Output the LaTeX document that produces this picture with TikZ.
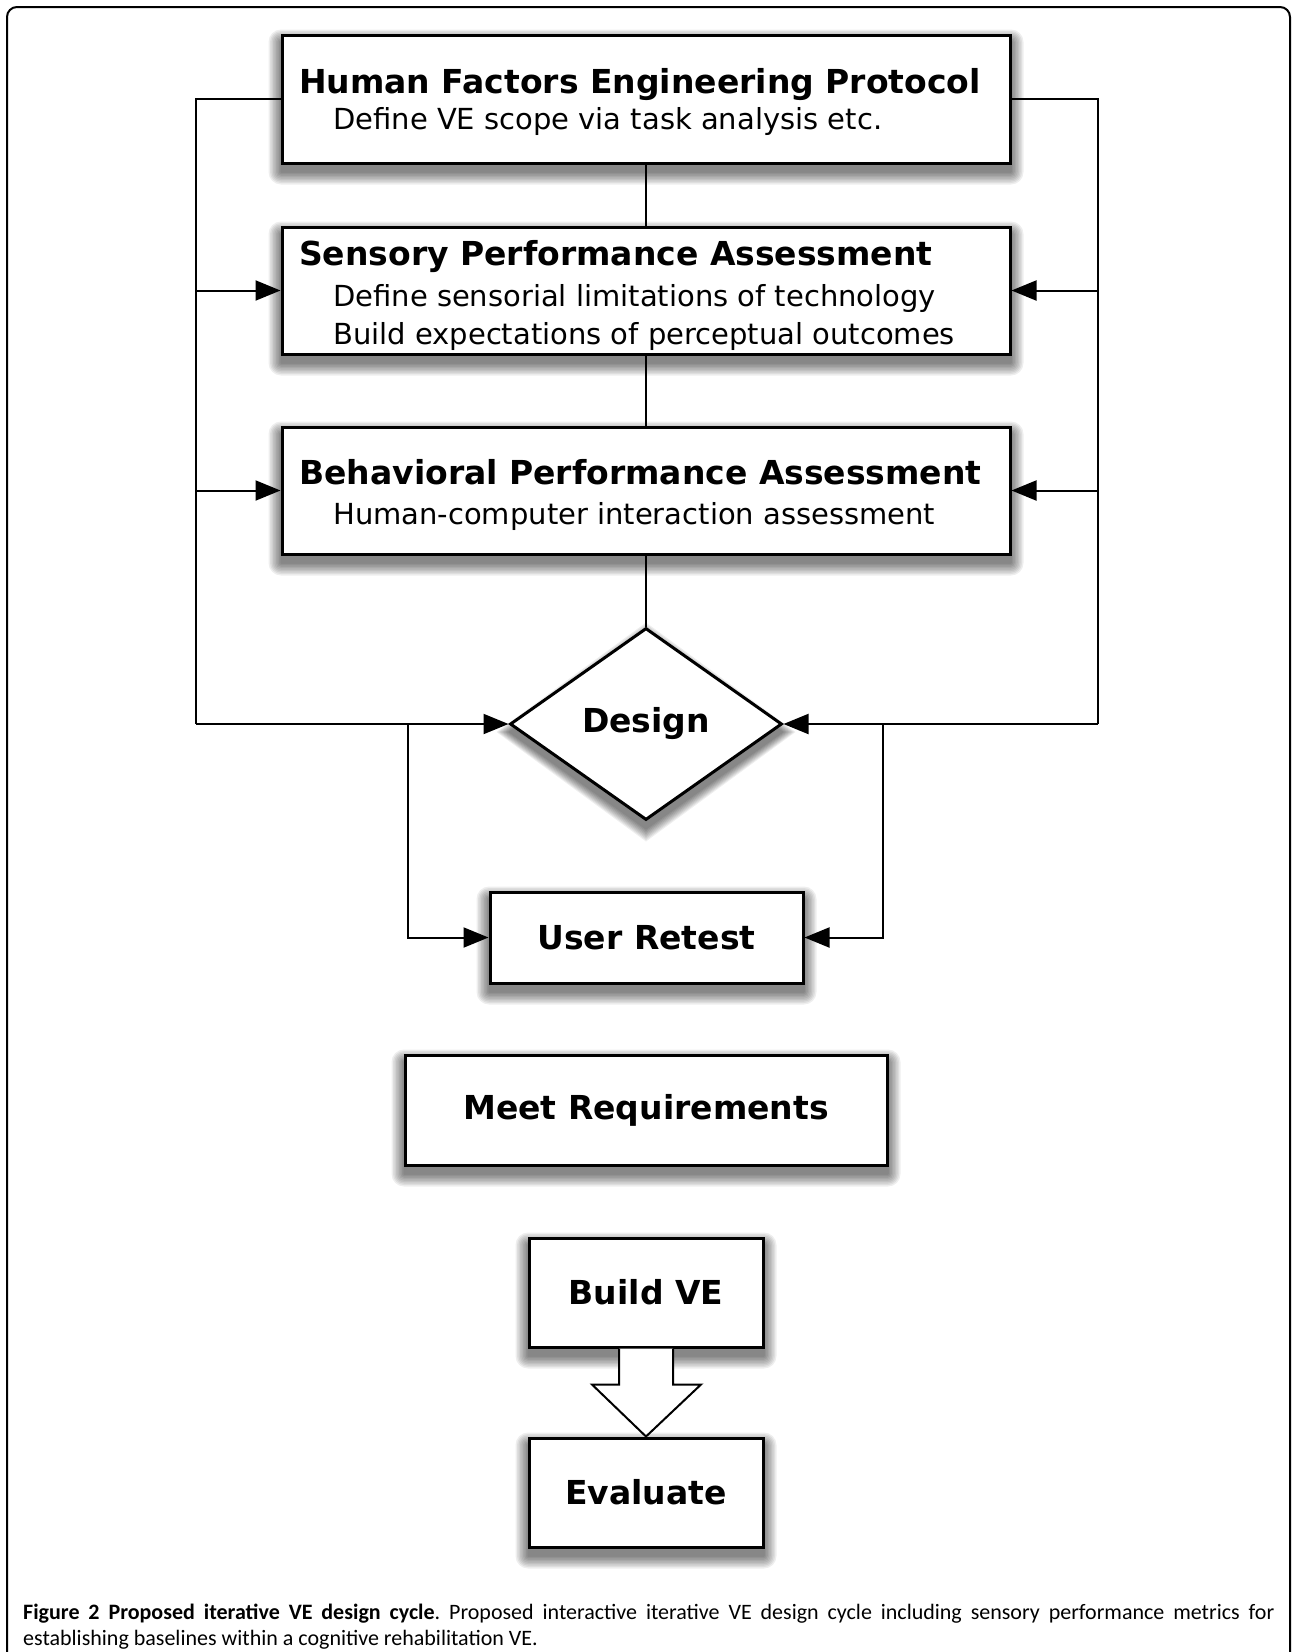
\documentclass[tikz,border=0pt]{standalone}
\usepackage{fontspec}
\setmainfont{DejaVu Sans}
\newfontfamily\capfont{Carlito}
\usetikzlibrary{arrows.meta,shapes.geometric}
\pgfdeclarelayer{bg}
\pgfsetlayers{bg,main}

\newcommand\rectshadow[1]{%
  \foreach \r in {0,1.5,...,12}{%
    \fill[black,opacity=0.065,rounded corners=\r pt+0.5pt]
      ([xshift=-\r pt,yshift=-8pt-\r pt]#1.south west) rectangle
      ([xshift=\r pt,yshift=-8pt+\r pt]#1.north east);}}
\newcommand\diashadow[1]{%
  \foreach \r in {0,1.5,...,12}{%
    \fill[black,opacity=0.065]
      ([yshift=-8pt+\r pt]#1.north) -- ([xshift=\r pt,yshift=-8pt]#1.east) --
      ([yshift=-8pt-\r pt]#1.south) -- ([xshift=-\r pt,yshift=-8pt]#1.west) -- cycle;}}

\tikzset{
  box/.style={draw=black, line width=3pt, fill=white, rectangle, inner sep=0pt,
    font=\fontsize{33}{39}\selectfont\bfseries},
  conn/.style={line width=2pt},
  arr/.style={conn, -{Triangle[length=25pt,width=20pt]}},
  ttl/.style={inner sep=0pt, anchor=base west, font=\fontsize{33}{39}\selectfont\bfseries},
  sub/.style={inner sep=0pt, anchor=base west, font=\fontsize{29}{35}\selectfont},
  blockarr/.style={line width=2pt, fill=white, line join=miter},
  frame/.style={line width=2pt, rounded corners=10pt}
}

\begin{document}
\begin{tikzpicture}[x=1pt,y=-1pt]
\useasboundingbox (0,0) rectangle (1292,1652);

% boxes
\node[box, minimum width=728pt, minimum height=128pt] (hfep) at (646,99) {};
\node[box, minimum width=728pt, minimum height=127pt] (spa) at (646,290.5) {};
\node[box, minimum width=728pt, minimum height=127pt] (bpa) at (646,490.5) {};
\node[box, diamond, minimum width=272pt, minimum height=192pt] (design) at (646,724) {Design};
\node[box, minimum width=313pt, minimum height=91pt] (ur) at (646.5,937.5) {User Retest};
\node[box, minimum width=482pt, minimum height=110pt] (mr) at (646,1110) {Meet Requirements};
\node[box, minimum width=234pt, minimum height=109pt] (bve) at (646,1292.5) {Build VE};
\node[box, minimum width=234pt, minimum height=109pt] (ev) at (646,1492.5) {Evaluate};

% texts in the large boxes
\node[ttl] (hfepT) at (299,93) {Human Factors Engineering Protocol};
\node[sub] (hfepS) at (333,129) {Define VE scope via task analysis etc.};
\node[ttl] (spaT) at (299,265) {Sensory Performance Assessment};
\node[sub] (spaS1) at (333,306) {Define sensorial limitations of technology};
\node[sub] (spaS2) at (333,344) {Build expectations of perceptual outcomes};
\node[ttl] (bpaT) at (299,484) {Behavioral Performance Assessment};
\node[sub] (bpaS) at (333,524) {Human-computer interaction assessment};

% shadows and background
\begin{pgfonlayer}{bg}
  \fill[white] (0,0) rectangle (1292,1652);
  \rectshadow{hfep}
  \rectshadow{spa}
  \rectshadow{bpa}
  \diashadow{design}
  \rectshadow{ur}
  \rectshadow{mr}
  \rectshadow{bve}
  \rectshadow{ev}
\end{pgfonlayer}

% connectors
\coordinate (lt) at (196,99);
\coordinate (lb) at (196,724);
\coordinate (rt) at (1098,99);
\coordinate (rb) at (1098,724);
\coordinate (il) at (408,724);
\coordinate (ir) at (883,724);

\draw[conn] (hfep.south) -- (spa.north);
\draw[conn] (spa.south) -- (bpa.north);
\draw[conn] (bpa.south) -- (design.north);

\draw[conn] (hfep.west) -- (lt) -- (lb);
\draw[arr] (lb) -- (design.west);
\draw[arr] (lt |- spa.west) -- (spa.west);
\draw[arr] (lt |- bpa.west) -- (bpa.west);

\draw[conn] (hfep.east) -- (rt) -- (rb);
\draw[arr] (rb) -- (design.east);
\draw[arr] (rt |- spa.east) -- (spa.east);
\draw[arr] (rt |- bpa.east) -- (bpa.east);

\draw[arr] (il) |- (ur.west);
\draw[arr] (ir) |- (ur.east);

% hollow block arrow
\draw[blockarr] ([xshift=-27pt]bve.south) -- ([xshift=-27pt,yshift=-36pt]bve.south)
  -- ([xshift=-54pt,yshift=-36pt]bve.south) -- (ev.north)
  -- ([xshift=55pt,yshift=-36pt]bve.south) -- ([xshift=27pt,yshift=-36pt]bve.south)
  -- ([xshift=27pt]bve.south);

% frame (its lower edge lies just below the picture)
\draw[frame] (7,7) rectangle (1290,1664);

% caption
\node[anchor=base west, inner sep=0pt, text width=1251pt, align=justify,
  font=\capfont\fontsize{22}{26}\selectfont\frenchspacing] (cap) at (23,1619)
  {\textbf{Figure 2 Proposed iterative VE design cycle}. Proposed interactive iterative VE design cycle including sensory performance metrics for\linebreak establishing baselines within a cognitive rehabilitation VE.};
\end{tikzpicture}
\end{document}
